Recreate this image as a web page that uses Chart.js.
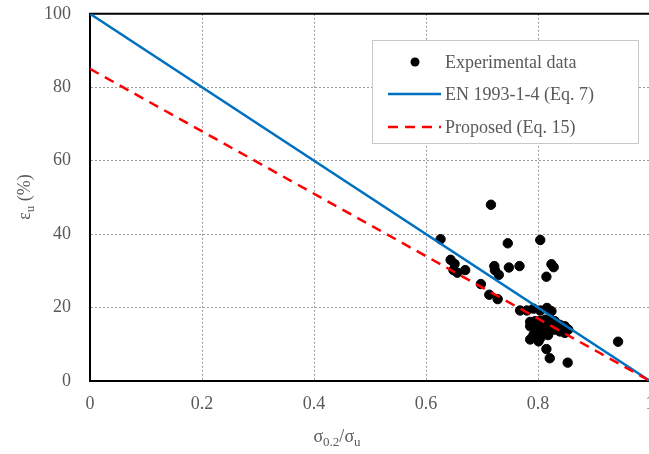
<!DOCTYPE html>
<html>
<head>
<meta charset="utf-8">
<script src="https://cdn.jsdelivr.net/npm/chart.js@4"></script>
<style>
html,body{margin:0;padding:0;background:#fff;overflow:hidden;width:649px;height:454px;}
#wrap{width:649px;height:454px;position:relative;overflow:hidden;}
#c{position:absolute;left:0;top:-16px;}
</style>
</head>
<body>
<div id="wrap"><canvas id="c" width="680" height="470"></canvas></div>
<script>
// Experimental data: sigma0.2/sigma_u and epsilon_u (%)
const expX = [0.626,0.716,0.644,0.651,0.649,0.656,0.670,0.698,0.713,0.728,0.722,0.723,0.730,0.748,0.767,0.746,0.804,0.824,0.828,0.815,
  0.768,0.780,0.792,0.804,0.816,0.824,
  0.786,0.795,0.804,0.813,0.821,0.830,0.839,0.848,0.854,
  0.786,0.795,0.804,0.813,0.821,0.830,0.839,0.848,0.792,0.807,0.818,0.786,0.804,0.801,
  0.815,0.821,0.853,0.943];
const expY = [38.6,48.0,33.0,31.9,30.2,29.5,30.2,26.4,23.5,22.3,31.3,30.2,28.9,30.9,31.3,37.5,38.4,31.8,31.0,28.4,
  19.2,19.2,19.7,19.2,19.9,19.0,
  16.1,16.3,16.4,16.7,16.4,16.3,15.3,14.9,14.0,
  14.9,14.4,14.0,14.4,13.5,14.0,13.5,13.1,12.6,13.1,12.5,11.3,11.7,10.8,
  8.7,6.2,5.0,10.7];
const lineX = [0, 1];
const enY = [100, 0];
const propY = [85, 0];
const xTicks = [0, 0.2, 0.4, 0.6, 0.8, 1];
const yTicks = [0, 20, 40, 60, 80, 100];
const seriesNames = ['Experimental data', 'EN 1993-1-4 (Eq. 7)', 'Proposed (Eq. 15)'];

const toPts = (xs, ys) => xs.map((x, i) => ({x: x, y: ys[i]}));
const FONT = '"Liberation Serif", "Times New Roman", serif';
const GREY = '#595959';
const OFF = 16; // canvas is shifted up by this many pixels

const titlePlugin = {
  id: 'titles',
  afterDraw(chart) {
    const ctx = chart.ctx;
    ctx.save();
    ctx.fillStyle = GREY;
    ctx.textBaseline = 'alphabetic';
    const parts = [['σ', 18, 0], ['0.2', 13, 4], ['/σ', 18, 0], ['u', 13, 4]];
    const measure = p => { ctx.font = p[1] + 'px ' + FONT; return ctx.measureText(p[0]).width; };
    let w = parts.reduce((s, p) => s + measure(p), 0);
    let x = 337 - w / 2, y = 442 + OFF;
    parts.forEach(p => { ctx.font = p[1] + 'px ' + FONT; ctx.fillText(p[0], x, y + p[2]); x += ctx.measureText(p[0]).width; });
    const yparts = [['ε', 18, 0], ['u', 13, 4], [' (%)', 18, 0]];
    w = yparts.reduce((s, p) => s + measure(p), 0);
    ctx.translate(30, 197 + OFF);
    ctx.rotate(-Math.PI / 2);
    x = -w / 2; y = 0;
    yparts.forEach(p => { ctx.font = p[1] + 'px ' + FONT; ctx.fillText(p[0], x, y + p[2]); x += ctx.measureText(p[0]).width; });
    ctx.restore();

    // legend
    ctx.save();
    const bx = 372.5, by = 40.5 + OFF, bw = 266, bh = 103;
    ctx.fillStyle = '#fff';
    ctx.fillRect(bx, by, bw, bh);
    ctx.strokeStyle = '#c8c8c8';
    ctx.lineWidth = 1;
    ctx.strokeRect(bx, by, bw, bh);
    const rows = [62, 94, 127];
    chart.data.datasets.forEach((ds, i) => {
      const ry = rows[i] + OFF;
      if (ds.showLine) {
        ctx.strokeStyle = ds.borderColor;
        ctx.lineWidth = ds.borderWidth;
        ctx.setLineDash(ds.borderDash || []);
        ctx.beginPath(); ctx.moveTo(388, ry); ctx.lineTo(441, ry); ctx.stroke();
        ctx.setLineDash([]);
      } else {
        ctx.fillStyle = ds.backgroundColor;
        ctx.beginPath(); ctx.arc(415, ry, 4.5, 0, Math.PI * 2); ctx.fill();
      }
      ctx.fillStyle = GREY;
      ctx.font = '18px ' + FONT;
      ctx.textBaseline = 'middle';
      ctx.fillText(ds.label, 445, ry + 1);
    });
    ctx.restore();
  }
};

new Chart(document.getElementById('c'), {
  type: 'scatter',
  data: {
    datasets: [
      { label: seriesNames[0], data: toPts(expX, expY), backgroundColor: '#000', borderColor: '#000',
        pointRadius: 4.7, pointHoverRadius: 4.7, showLine: false, order: 3 },
      { label: seriesNames[1], data: toPts(lineX, enY), borderColor: '#0070C0', backgroundColor: '#0070C0',
        borderWidth: 2.5, pointRadius: 0, showLine: true, order: 2 },
      { label: seriesNames[2], data: toPts(lineX, propY), borderColor: '#FF0000', backgroundColor: '#FF0000',
        borderWidth: 2.5, borderDash: [10, 7], pointRadius: 0, showLine: true, order: 1 }
    ]
  },
  options: {
    responsive: false,
    animation: false,
    events: [],
    layout: { padding: { top: 13, right: 30, left: 0, bottom: 0 } },
    plugins: { legend: { display: false }, tooltip: { enabled: false } },
    scales: {
      x: {
        type: 'linear', min: 0, max: 1,
        afterBuildTicks: s => { s.ticks = xTicks.map(v => ({value: v})); },
        afterFit: s => { s.height = 73; },
        ticks: { color: GREY, font: { family: FONT, size: 18 }, padding: 12, maxRotation: 0,
                 callback: v => String(v) },
        grid: { drawTicks: false, color: c => (c.tick && (c.tick.value === 0 || c.tick.value === 1)) ? 'rgba(0,0,0,0)' : '#9a9a9a',
                lineWidth: 1 },
        border: { display: true, color: '#000', width: 2, dash: [2, 2] }
      },
      y: {
        type: 'linear', min: 0, max: 100,
        afterBuildTicks: s => { s.ticks = yTicks.map(v => ({value: v})); },
        afterFit: s => { s.width = 90; },
        ticks: { color: GREY, font: { family: FONT, size: 18 }, padding: 19 },
        grid: { drawTicks: false,
                color: c => (c.tick && c.tick.value === 0) ? 'rgba(0,0,0,0)' : '#9a9a9a',
                lineWidth: 1 },
        border: { display: true, color: '#000', width: 2, dash: [2, 2] }
      }
    }
  },
  plugins: [titlePlugin, {
    id: 'topBorder',
    beforeDatasetsDraw(chart) {
      const a = chart.chartArea, ctx = chart.ctx;
      ctx.save();
      ctx.strokeStyle = '#000'; ctx.lineWidth = 2;
      ctx.beginPath(); ctx.moveTo(a.left - 1, a.top); ctx.lineTo(a.right, a.top); ctx.stroke();
      ctx.restore();
    }
  }]
});
</script>
</body>
</html>
